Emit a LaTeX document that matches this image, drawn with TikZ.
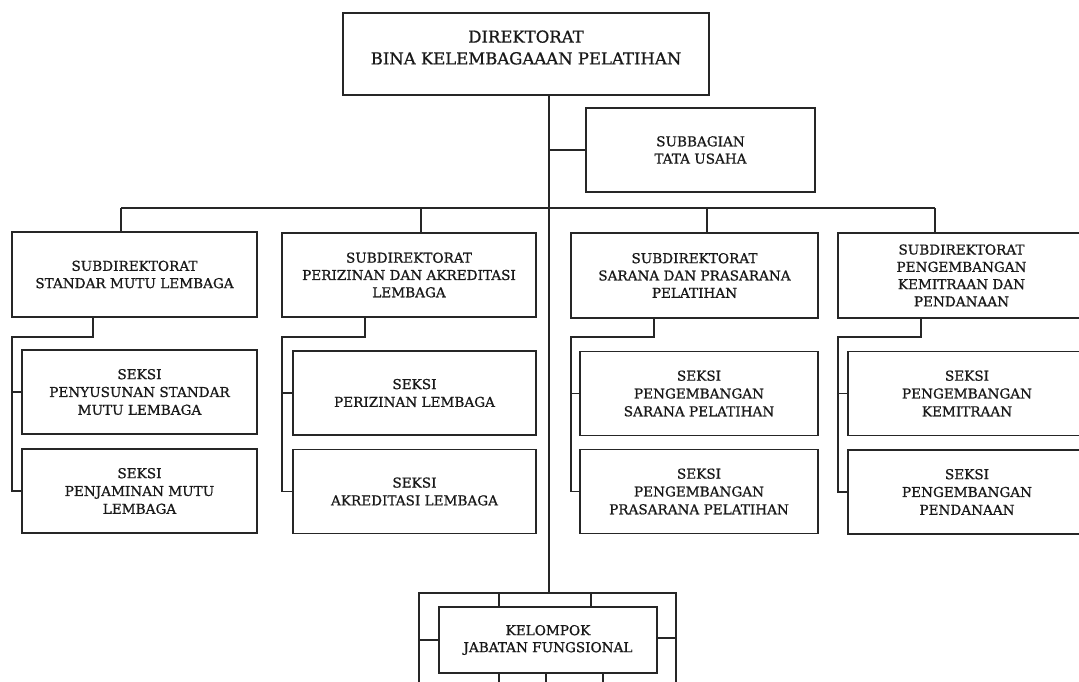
\documentclass[tikz,border=0pt]{standalone}
\usepackage{fontspec}
\setmainfont{DejaVu Serif}[FakeBold=0.9]
\begin{document}
\begin{tikzpicture}[x=1pt,y=-1pt,line width=1.5pt,
  box/.style={draw=black!85, line width=1.5pt, rectangle, inner sep=0pt, outer sep=0pt, align=center,
    text=black!90, font=\fontsize{13.6}{17.3}\selectfont},
  seksibox/.style={box, font=\fontsize{13.6}{17.8}\selectfont, minimum height=84pt},
  ln/.style={draw=black!85, line width=1.5pt}]
\useasboundingbox (0,0) rectangle (1079,681);
\fill[white] (0,0) rectangle (1079,681);

% top level
\node[box, minimum width=366pt, minimum height=82pt] (dir) at (526,54) {};
\node[align=center, text=black!90, font=\fontsize{16.5}{21.7}\selectfont] (dirt) at (526,47.5)
  {DIREKTORAT\\BINA KELEMBAGAAAN PELATIHAN};
\node[box, minimum width=229pt, minimum height=84pt] (sub) at (700.5,150) {SUBBAGIAN\\TATA USAHA};

% subdirectorates
\node[box, minimum width=245pt, minimum height=85pt] (s1) at (134.5,274.5)
  {SUBDIREKTORAT\\STANDAR MUTU LEMBAGA};
\node[box, minimum width=254pt, minimum height=84pt] (s2) at (409,275)
  {SUBDIREKTORAT\\PERIZINAN DAN AKREDITASI\\LEMBAGA};
\node[box, minimum width=247pt, minimum height=85pt] (s3) at (694.5,275.5)
  {SUBDIREKTORAT\\SARANA DAN PRASARANA\\PELATIHAN};
\node[box, minimum width=247pt, minimum height=85pt] (s4) at (961.5,275.5)
  {SUBDIREKTORAT\\PENGEMBANGAN\\KEMITRAAN DAN\\PENDANAAN};

% sections
\node[seksibox, minimum width=235pt] (a1) at (139.5,392) {SEKSI\\PENYUSUNAN STANDAR\\MUTU LEMBAGA};
\node[seksibox, minimum width=235pt] (b1) at (139.5,491) {SEKSI\\PENJAMINAN MUTU\\LEMBAGA};
\node[seksibox, minimum width=243pt] (a2) at (414.5,393) {SEKSI\\PERIZINAN LEMBAGA};
\node[seksibox, minimum width=243pt] (b2) at (414.5,491.5) {SEKSI\\AKREDITASI LEMBAGA};
\node[seksibox, minimum width=238pt] (a3) at (699,393.5) {SEKSI\\PENGEMBANGAN\\SARANA PELATIHAN};
\node[seksibox, minimum width=238pt] (b3) at (699,491.5) {SEKSI\\PENGEMBANGAN\\PRASARANA PELATIHAN};
\node[seksibox, minimum width=238pt] (a4) at (967,393.5) {SEKSI\\PENGEMBANGAN\\KEMITRAAN};
\node[seksibox, minimum width=238pt] (b4) at (967,492) {SEKSI\\PENGEMBANGAN\\PENDANAAN};

% functional group
\node[box, minimum width=257pt, minimum height=95pt] (kel) at (547.5,640.5) {};
\node[box, minimum width=218pt, minimum height=66pt, font=\fontsize{13.6}{17}\selectfont] (kelin) at (548,640)
  {KELOMPOK\\JABATAN FUNGSIONAL};
\draw[ln] (kelin.north -| 499,0) -- (kel.north -| 499,0);
\draw[ln] (kelin.north -| 591,0) -- (kel.north -| 591,0);
\draw[ln] (kelin.south -| 499,0) -- (kel.south -| 499,0);
\draw[ln] (kelin.south -| 546,0) -- (kel.south -| 546,0);
\draw[ln] (kelin.south -| 603,0) -- (kel.south -| 603,0);
\draw[ln] (kel.west |- 0,640) -- (kelin.west |- 0,640);
\draw[ln] (kelin.east |- 0,638) -- (kel.east |- 0,638);

% trunk
\coordinate (tr) at (549,0);
\draw[ln] (dir.south -| tr) -- (kel.north -| tr);
\draw[ln] (sub.west -| tr) -- (sub.west);

% bus
\coordinate (p1) at (121,208);
\coordinate (p2) at (421,208);
\coordinate (p3) at (707,208);
\coordinate (p4) at (935,208);
\draw[ln] (p1) -- (p4);
\draw[ln] (p1) -- (p1 |- s1.north);
\draw[ln] (p2) -- (p2 |- s2.north);
\draw[ln] (p3) -- (p3 |- s3.north);
\draw[ln] (p4) -- (p4 |- s4.north);

% column connectors
\coordinate (d1) at (93,337);
\coordinate (d2) at (365,337);
\coordinate (d3) at (654,337);
\coordinate (d4) at (921,337);
\foreach \i in {1,2,3,4}{
  \draw[ln] (d\i |- s\i.south) -- (d\i) -| (b\i.west -| s\i.west) -- (b\i.west);
  \draw[ln] (a\i.west -| s\i.west) -- (a\i.west);
}
\end{tikzpicture}
\end{document}
